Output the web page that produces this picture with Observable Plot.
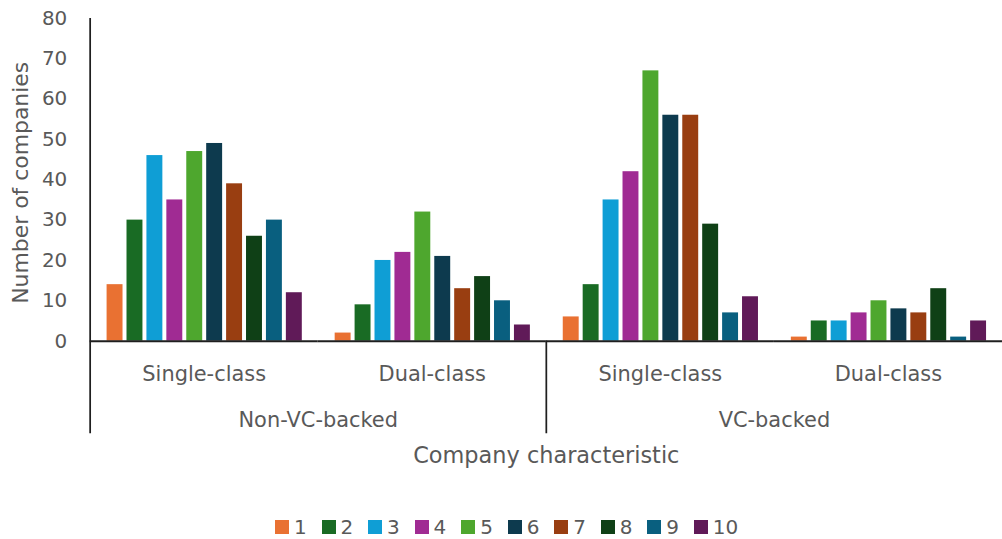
<!DOCTYPE html>
<html>
<head>
<meta charset="utf-8">
<script src="https://cdn.jsdelivr.net/npm/d3@7"></script>
<script src="https://cdn.jsdelivr.net/npm/@observablehq/plot@0.6"></script>
<style>
  html, body { margin: 0; padding: 0; background: #fff; }
  body { width: 1002px; height: 539px; overflow: hidden; position: relative; font-family: "DejaVu Sans", sans-serif; }
  #chart { position: absolute; left: 0; top: 0; }
  #legend { position: absolute; left: 275px; top: 510px; }
  #legend .lg-swatch { margin-right: 14.8px !important; font-size: 20px; color: #595959; }
  #legend .lg-swatch > svg { margin-right: 5px !important; }
  #legend .lg-swatches-wrap, #legend .lg-swatches { font-size: 20px; font-family: "DejaVu Sans", sans-serif; color: #595959; }
</style>
</head>
<body>
<div id="chart"></div>
<div id="legend"></div>
<script>
// ---- data ----
const series = ["1", "2", "3", "4", "5", "6", "7", "8", "9", "10"];
const colors = ["#E97132", "#196B24", "#0F9ED5", "#A02B93", "#4EA72E", "#0D3A4E", "#993E11", "#0F4016", "#095F7F", "#601A58"];
const backings = ["Non-VC-backed", "VC-backed"];
const classes = ["Single-class", "Dual-class"];
const nonVcSingle = [14, 30, 46, 35, 47, 49, 39, 26, 30, 12];
const nonVcDual   = [2, 9, 20, 22, 32, 21, 13, 16, 10, 4];
const vcSingle    = [6, 14, 35, 42, 67, 56, 56, 29, 7, 11];
const vcDual      = [1, 5, 5, 7, 10, 8, 7, 13, 1, 5];
const yTicks = [0, 10, 20, 30, 40, 50, 60, 70, 80];
const yTitle = "Number of companies";
const xTitle = "Company characteristic";

// ---- table ----
const groups = [
  {backing: backings[0], cls: classes[0], values: nonVcSingle},
  {backing: backings[0], cls: classes[1], values: nonVcDual},
  {backing: backings[1], cls: classes[0], values: vcSingle},
  {backing: backings[1], cls: classes[1], values: vcDual}
].map(g => ({...g, key: g.backing + "|" + g.cls}));
const fxDomain = groups.map(g => g.key);
const data = groups.flatMap(g => g.values.map((v, i) => ({key: g.key, series: series[i], value: v})));
const outer = backings.map(b => ({key: b + "|" + classes[0], label: b}));

// ---- layout ----
const W = 1006, H = 500, ML = 90, MR = 0, MT = 18, MB = 158;
const FW = (W - ML - MR) / fxDomain.length;
const PH = H - MT - MB;
const axisColor = "#1f1f1f";
const txt = "#595959";

const plot = Plot.plot({
  width: W, height: H,
  marginLeft: ML, marginRight: MR, marginTop: MT, marginBottom: MB,
  style: {fontFamily: "'DejaVu Sans', sans-serif", fontSize: "20px", color: txt, background: "white"},
  fx: {domain: fxDomain, padding: 0, axis: null, label: null},
  x: {domain: series, paddingInner: 0.2, paddingOuter: 0.8, axis: null, label: null},
  y: {domain: [0, 80], ticks: yTicks, tickSize: 0, tickPadding: 23, label: null},
  color: {domain: series, range: colors},
  marks: [
    Plot.barY(data, {fx: "key", x: "series", y: "value", fill: "series"}),
    Plot.ruleY([0], {stroke: axisColor, strokeWidth: 2}),
    Plot.ruleX([{key: fxDomain[0]}], {fx: "key", x: null, dx: -FW / 2, insetBottom: -93, stroke: axisColor, strokeWidth: 1.75}),
    Plot.ruleX([{key: fxDomain[2]}], {fx: "key", x: null, dx: -FW / 2, insetTop: PH, insetBottom: -93, stroke: axisColor, strokeWidth: 1.75}),
    Plot.text(groups, {fx: "key", text: "cls", frameAnchor: "bottom", textAnchor: "middle", lineAnchor: "middle", dy: 33, fontSize: 21, fill: txt}),
    Plot.text(outer, {fx: "key", text: "label", frameAnchor: "bottom-right", textAnchor: "middle", lineAnchor: "middle", dy: 79, fontSize: 21, fill: txt}),
    Plot.text([{key: fxDomain[1], label: xTitle}], {fx: "key", text: "label", frameAnchor: "bottom-right", textAnchor: "middle", lineAnchor: "middle", dy: 115, fontSize: 22.5, fill: txt}),
    Plot.text([{key: fxDomain[0], label: yTitle}], {fx: "key", text: "label", frameAnchor: "left", textAnchor: "middle", lineAnchor: "middle", rotate: -90, dx: -69.5, dy: 3, fontSize: 22, fill: txt})
  ]
});
document.getElementById("chart").appendChild(plot);

const legend = Plot.legend({
  legend: "swatches",
  color: {domain: series, range: colors},
  swatchSize: 14,
  className: "lg",
  style: {fontFamily: "'DejaVu Sans', sans-serif", fontSize: "20px", color: txt}
});
document.getElementById("legend").appendChild(legend);
</script>
</body>
</html>
